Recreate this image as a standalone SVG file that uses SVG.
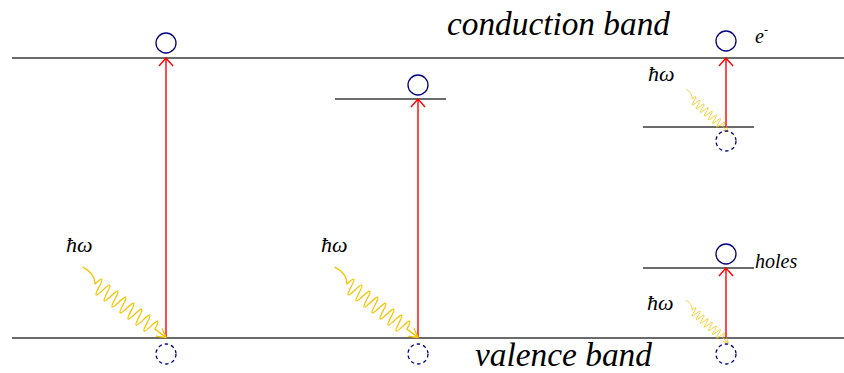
<svg xmlns="http://www.w3.org/2000/svg" width="844" height="373" viewBox="0 0 844 373">
<defs>
<style>
.band{stroke:#3a3a3a;stroke-width:1.6;fill:none}
.arr{stroke:#ff0000;stroke-width:1.4;fill:none}
.st{stroke:#000080;stroke-width:1.3;fill:none}
.em{stroke:#000080;stroke-width:1.3;fill:none;stroke-dasharray:3.5 3}
.ph{stroke:#f5c400;stroke-width:1.3;fill:none;stroke-linejoin:round}
.lbl{font-family:'Liberation Serif','Times New Roman',serif;font-style:italic;fill:#000}
</style>
<g id="photon">
<path class="ph" d="M-20 -6 C-10 -8 -4 -5 0 0 q2.5 -16 5 0 t5 0 t5 0 t5 0 t5 0 t5 0 t5 0 t5 0 t5 0 t5 0 t5 0 t5 0 t5 0 t5 0 t5 0 L89 0 M80 -5 L89 0 L80 5"/>
</g>
</defs>
<g id="connectors">
<line class="band" x1="12" y1="58" x2="844" y2="58"/>
<line class="band" x1="12" y1="338" x2="844" y2="338"/>
<line class="band" x1="335" y1="99" x2="446" y2="99"/>
<line class="band" x1="643" y1="127" x2="754" y2="127"/>
<line class="band" x1="643" y1="268" x2="754" y2="268"/>
<path class="arr" d="M166 338 V58 M159 66 L166 58 L173 66"/>
<path class="arr" d="M418 338 V99 M411 107 L418 99 L425 107"/>
<path class="arr" d="M726 127 V58 M719 66 L726 58 L733 66"/>
<path class="arr" d="M726 338 V268 M719 276 L726 268 L733 276"/>
<use href="#photon" transform="translate(95,284) rotate(37)"/>
<use href="#photon" transform="translate(347,284) rotate(37)"/>
<use href="#photon" transform="translate(692,99) rotate(42) scale(0.55)"/>
<use href="#photon" transform="translate(692,310) rotate(42) scale(0.55)"/>
</g>
<g id="n1"><circle class="st" cx="166" cy="43" r="10"/><circle class="em" cx="166" cy="354" r="10"/></g>
<g id="n2"><circle class="st" cx="418" cy="85" r="10"/><circle class="em" cx="418" cy="354" r="10"/></g>
<g id="n3"><circle class="st" cx="726" cy="41" r="10"/><circle class="em" cx="726" cy="141" r="10"/></g>
<g id="n4"><circle class="st" cx="726" cy="254" r="10"/><circle class="em" cx="726" cy="354" r="10"/></g>
<g id="labels">
<text class="lbl" x="447" y="35" font-size="33" textLength="223" lengthAdjust="spacingAndGlyphs">conduction band</text>
<text class="lbl" x="475" y="366" font-size="33" textLength="177" lengthAdjust="spacingAndGlyphs">valence band</text>
<text class="lbl" x="66" y="252" font-size="22">ħω</text>
<text class="lbl" x="321" y="252" font-size="22">ħω</text>
<text class="lbl" x="648" y="81" font-size="22">ħω</text>
<text class="lbl" x="647" y="310" font-size="22">ħω</text>
<text class="lbl" x="755" y="43" font-size="20">e<tspan font-size="12" dy="-9">-</tspan></text>
<text class="lbl" x="755" y="268" font-size="20">holes</text>
</g>
</svg>
